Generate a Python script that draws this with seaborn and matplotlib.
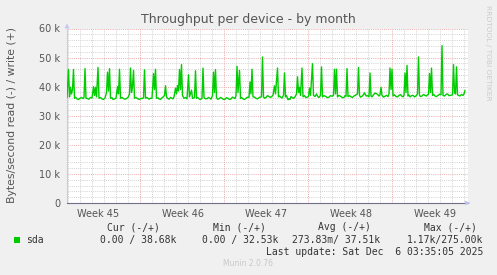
import matplotlib
matplotlib.use("Agg")
import matplotlib.pyplot as plt
from matplotlib.patches import Rectangle
from matplotlib.ticker import MultipleLocator
import seaborn as sns
import pandas as pd
import numpy as np

# ---------------- data ----------------
# time offset in hours from the left edge of the graph
hours = [
    0, 3, 5, 7, 9, 11, 13, 15, 17, 20,
    23, 26, 29, 32, 34, 36, 38, 41, 44, 47,
    50, 53, 55, 57, 59, 62, 64, 67, 70, 73,
    76, 79, 81, 83, 85, 87, 90, 92, 95, 98,
    101, 103, 105, 107, 110, 114, 117, 120, 122, 125,
    127, 129, 131, 133, 135, 138, 142, 145, 148, 151,
    153, 155, 157, 160, 164, 167, 170, 173, 175, 177,
    179, 182, 184, 187, 190, 192, 195, 197, 199, 201,
    204, 207, 210, 212, 214, 217, 219, 221, 223, 225,
    227, 229, 231, 234, 237, 240, 243, 245, 249, 251,
    255, 257, 259, 261, 264, 267, 270, 272, 274, 277,
    280, 283, 286, 288, 291, 293, 295, 297, 299, 301,
    304, 307, 310, 313, 316, 319, 322, 325, 328, 331,
    334, 336, 338, 340, 342, 345, 347, 349, 352, 355,
    358, 361, 364, 366, 368, 370, 372, 375, 378, 381,
    384, 386, 389, 391, 393, 395, 398, 401, 404, 407,
    410, 412, 415, 417, 421, 423, 425, 428, 430, 433,
    435, 437, 439, 442, 444, 446, 448, 450, 453, 456,
    459, 461, 463, 465, 467, 470, 472, 475, 478, 480,
    483, 485, 487, 491, 493, 496, 499, 502, 504, 507,
    509, 511, 514, 518, 521, 524, 527, 530, 533, 535,
    537, 539, 541, 544, 548, 551, 554, 556, 558, 560,
    562, 565, 568, 571, 574, 577, 581, 583, 585, 587,
    590, 592, 595, 598, 601, 604, 606, 608, 610, 612,
    616, 620, 624, 626, 628, 630, 633, 636, 639, 642,
    644, 646, 648, 650, 652, 655, 658, 661, 664, 667,
    670, 672, 674, 676, 678, 680, 682, 684, 686, 689,
    692, 695, 698, 701, 703, 705, 707, 710, 713, 716,
    719, 721, 723, 725, 727, 729, 731, 733, 736, 739,
    742, 745, 748, 750, 752, 755, 758, 761, 764, 767,
    771, 773, 775, 777, 779, 781, 783, 786, 789, 792,
    794, 796,
]
# write throughput in kB/s
write_kbps = [
    36.2, 45.9, 36.5, 39.8, 37.5, 39.0, 45.9, 36.0, 36.4, 35.8,
    35.6, 36.0, 36.3, 35.9, 36.2, 46.2, 36.0, 35.9, 35.7, 36.3,
    36.1, 40.0, 37.0, 39.8, 36.5, 46.6, 36.0, 36.3, 35.8, 35.6,
    36.1, 38.0, 45.0, 38.5, 46.2, 36.0, 36.2, 35.6, 35.8, 36.0,
    40.0, 37.5, 46.0, 36.0, 36.3, 35.8, 35.7, 36.1, 36.3, 37.5,
    46.4, 38.0, 40.0, 45.6, 36.0, 36.3, 35.8, 35.6, 36.0, 35.9,
    36.2, 45.8, 36.0, 36.3, 35.7, 36.0, 36.0, 44.5, 39.0, 46.0,
    36.0, 36.2, 35.8, 35.6, 36.2, 36.4, 37.0, 40.3, 36.5, 36.0,
    35.7, 36.3, 36.0, 35.8, 36.5, 39.5, 37.5, 40.4, 38.5, 45.9,
    39.0, 47.6, 37.0, 36.0, 36.3, 35.8, 44.1, 36.5, 38.8, 36.0,
    36.2, 45.5, 36.0, 36.3, 35.8, 35.6, 36.0, 46.4, 36.2, 35.8,
    35.9, 36.3, 36.0, 35.7, 37.0, 45.0, 38.0, 45.9, 36.2, 35.7,
    35.8, 36.3, 36.0, 35.6, 35.7, 36.2, 36.0, 35.6, 35.8, 36.4,
    36.1, 35.9, 37.0, 47.0, 38.0, 45.6, 36.0, 36.3, 35.8, 35.6,
    36.0, 36.4, 36.3, 41.6, 37.5, 46.0, 36.5, 36.4, 36.0, 35.8,
    36.2, 36.4, 36.5, 50.2, 36.5, 36.0, 36.3, 36.9, 36.6, 36.3,
    36.7, 37.0, 40.3, 37.5, 46.4, 36.5, 36.8, 36.3, 36.1, 37.0,
    44.7, 36.5, 36.9, 35.5, 35.9, 35.6, 36.6, 36.3, 36.0, 36.5,
    37.5, 43.4, 38.0, 39.8, 37.0, 46.4, 36.5, 36.9, 36.2, 36.4,
    36.6, 39.5, 37.0, 47.9, 37.0, 36.6, 37.5, 36.5, 36.3, 37.0,
    46.8, 36.5, 36.9, 36.6, 36.2, 36.4, 36.9, 36.7, 37.0, 46.0,
    37.5, 46.0, 36.5, 37.0, 36.6, 36.2, 36.3, 36.9, 36.7, 46.2,
    36.6, 36.9, 36.5, 36.3, 36.8, 37.1, 37.5, 46.6, 37.0, 36.4,
    36.7, 37.0, 37.9, 36.8, 36.9, 36.5, 44.7, 36.8, 36.5, 37.0,
    37.8, 37.5, 36.8, 37.2, 39.8, 37.0, 36.4, 36.7, 37.0, 36.6,
    37.5, 46.4, 39.0, 46.0, 36.8, 37.2, 36.6, 36.5, 37.0, 37.3,
    36.7, 36.5, 37.0, 44.7, 38.0, 47.3, 36.8, 37.1, 36.5, 36.9,
    37.0, 36.5, 36.8, 37.5, 50.2, 37.0, 36.6, 36.8, 37.3, 37.0,
    36.8, 37.2, 37.3, 44.5, 38.0, 46.4, 37.0, 37.4, 36.8, 36.6,
    37.0, 37.4, 37.2, 54.1, 37.0, 36.8, 37.3, 37.5, 36.9, 37.0,
    37.2, 47.6, 38.0, 37.5, 46.8, 37.2, 37.0, 36.8, 37.3, 37.0,
    37.5, 38.7,
]

week_labels = ["Week 45", "Week 46", "Week 47", "Week 48", "Week 49"]
week_label_hours = [63, 231, 399, 567, 735]
week_start_hours = [146.6, 314.6, 482.6, 650.6]
day_line_hours = list(np.arange(2.6, 802, 24))
y_ticks = [0, 10000, 20000, 30000, 40000, 50000, 60000]
y_tick_labels = ["0", "10 k", "20 k", "30 k", "40 k", "50 k", "60 k"]

legend_name = "sda"
col_headers = ["Cur (-/+)", "Min (-/+)", "Avg (-/+)", "Max (-/+)"]
col_values = ["0.00 / 38.68k", "0.00 / 32.53k", "273.83m/ 37.51k", "1.17k/275.00k"]
last_update = "Last update: Sat Dec  6 03:35:05 2025"

# ---------------- figure ----------------
sns.set_theme(style="white")
plt.rcParams["font.family"] = ["DejaVu Sans"]

W, H = 497, 275
fig = plt.figure(figsize=(W / 100, H / 100), dpi=100, facecolor="#F0F0F0")
ax = fig.add_axes([67 / W, 1 - 203 / H, 401 / W, 174.5 / H])
ax.set_facecolor("white")

df = pd.DataFrame({"hours": hours, "bps": [v * 1000 for v in write_kbps]})
sns.lineplot(data=df, x="hours", y="bps", ax=ax, color="#00CC00", linewidth=1.0,
             estimator=None, zorder=5)

ax.set_xlim(0, 802)
ax.set_ylim(0, 60000)

# grid
grey = "#d2d2d2"
red = "#eeaaaa"
dot = (0, (1, 1.2))
for h in day_line_hours:
    if min(abs(h - w) for w in week_start_hours) > 1:
        ax.axvline(h, color=grey, lw=0.7, ls=dot, zorder=1)
ax.axvline(802, color=grey, lw=0.7, ls=dot, zorder=1)
for h in week_start_hours:
    ax.axvline(h, color=red, lw=0.7, ls=dot, zorder=2)

ax.set_yticks(y_ticks)
ax.set_yticklabels(y_tick_labels)
ax.yaxis.set_minor_locator(MultipleLocator(2000))
ax.grid(which="minor", axis="y", color=grey, lw=0.7, ls=dot)
ax.grid(which="major", axis="y", color=red, lw=0.7, ls=dot)
ax.set_axisbelow(True)

ax.set_xticks(week_label_hours)
ax.set_xticklabels(week_labels)
ax.tick_params(axis="x", length=0, pad=4, labelsize=7, labelcolor="#555555")
ax.tick_params(axis="y", which="both", length=0, pad=5, labelsize=7, labelcolor="#555555")
ax.set_xlabel("")
ax.set_ylabel("")

for s in ["top", "right"]:
    ax.spines[s].set_visible(False)
ax.spines["left"].set_color("#c8c8f0")
ax.spines["left"].set_linewidth(0.8)
ax.spines["bottom"].set_color("#707088")
ax.spines["bottom"].set_linewidth(0.8)

# axis arrows
ax.annotate("", xy=(0, 1.045), xytext=(0, 0.99), xycoords="axes fraction",
            arrowprops=dict(arrowstyle="-|>", color="#c8c8f0", lw=0.8, mutation_scale=6),
            annotation_clip=False)
ax.annotate("", xy=(1.012, 0), xytext=(0.995, 0), xycoords="axes fraction",
            arrowprops=dict(arrowstyle="-|>", color="#c0c0f0", lw=0.8, mutation_scale=6),
            annotation_clip=False)

def fx(px):
    return px / W

def fy(py):
    return 1 - py / H

fig.text(fx(248), fy(19), "Throughput per device - by month", ha="center", va="center",
         fontsize=9, color="#555555")
fig.text(fx(12), fy(115), "Bytes/second read (-) / write (+)", ha="center", va="center",
         rotation=90, fontsize=7.8, color="#555555")
fig.text(fx(488), fy(53), "RRDTOOL / TOBI OETIKER", ha="center", va="center",
         rotation=270, fontsize=5.4, color="#cccccc")

mono = "DejaVu Sans Mono"
header_right = [160, 266, 371, 477]
value_right = [176, 278.5, 380, 483]
for hx, hd in zip(header_right, col_headers):
    fig.text(fx(hx), fy(227.5), hd, ha="right", va="center", fontsize=7, family=mono, color="#333333")
for vx, vv in zip(value_right, col_values):
    fig.text(fx(vx), fy(240), vv, ha="right", va="center", fontsize=7, family=mono, color="#333333")
fig.patches.append(Rectangle((fx(14), fy(243)), 6 / W, 6 / H, transform=fig.transFigure,
                             facecolor="#00CC00", edgecolor="none"))
fig.text(fx(26.5), fy(240), legend_name, ha="left", va="center", fontsize=7, family=mono, color="#333333")
fig.text(fx(483), fy(252), last_update, ha="right", va="center", fontsize=7, family=mono, color="#333333")
fig.text(fx(248), fy(264), "Munin 2.0.76", ha="center", va="center", fontsize=5.5, color="#c8c8c8")

fig.savefig("out.png", dpi=100, facecolor=fig.get_facecolor())
